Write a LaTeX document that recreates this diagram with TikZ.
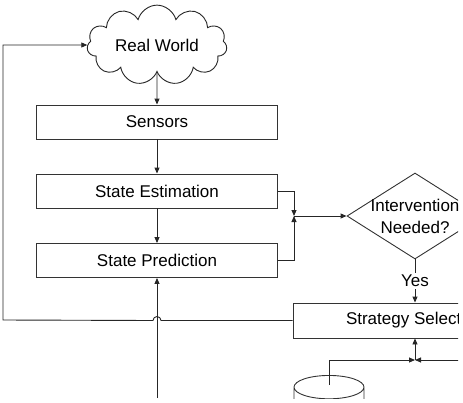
\documentclass[tikz,border=0pt]{standalone}
\usepackage{fontspec}
\setmainfont{Liberation Sans}
\usetikzlibrary{arrows.meta,calc,positioning,shapes.geometric,shapes.symbols}

\begin{document}
\begin{tikzpicture}[x=1pt, y=-1pt,
font=\fontsize{17}{22}\selectfont,
stage/.style={draw=black!80, line width=0.9pt, minimum width=241pt, minimum height=34pt, inner sep=0pt},
arrow/.style={-{Triangle[length=6pt,width=5pt]}, line width=0.9pt, draw=black!85},
world/.style={cloud, draw=black!85, cloud puffs=11, aspect=2.1, line width=0.9pt, minimum width=140pt, minimum height=64pt, inner sep=0pt},
choice/.style={diamond, draw=black!80, line width=0.9pt, minimum width=136pt, minimum height=86pt, inner sep=0pt, align=center},
store/.style={cylinder, draw=black!80, line width=0.9pt, shape border rotate=90, aspect=3.5, minimum width=70pt, minimum height=60pt}
]
\useasboundingbox (0,0) rectangle (463,402);
\clip (0,0) rectangle (458,398);

\node[world] (real) at (157,45) {Real World};
\node[stage] (sensors) at (157,122) {Sensors};
\node[stage] (estimation) at (157,191) {State Estimation};
\node[stage] (prediction) at (157,260.5) {State Prediction};
\node[choice] (need) at (415,216) {\makebox[0pt]{Intervention}\\\makebox[0pt]{Needed?}};
\node[stage, minimum width=244pt, minimum height=35pt] (strategy) at (415,320.5) {Strategy Selection};
\node[store] (data) at (329,414) {};

\coordinate (merge) at (294,216);
\coordinate (join) at (415,360);
\coordinate (loop) at (3,320);
\coordinate (feed) at (157,398);
\coordinate (offright) at (475,360);

\draw[arrow] (real.south) -- (sensors.north);
\draw[arrow] (sensors) -- (estimation);
\draw[arrow] (estimation) -- (prediction);
\draw[arrow] (estimation.east) -| (merge);
\draw[arrow] (prediction.east) -| (merge);
\draw[arrow] (merge) -- (need.west);
\draw[arrow] (need.south) -- node[fill=white, inner sep=2pt] {Yes} (strategy.north);
\draw[arrow] (join) -- (strategy.south);
\draw[arrow] ($(data.top)+(0,10)$) |- (join);
\draw[arrow] (offright) -- (join);
\draw[arrow] (feed) -- (prediction.south);
% feedback loop with a jump over the upward line
\draw[arrow] (strategy.west) -- ($(strategy.west -| prediction.south)+(4,0)$) arc[start angle=0, end angle=-180, radius=4] -- (loop) |- (real.west);
\end{tikzpicture}
\end{document}
